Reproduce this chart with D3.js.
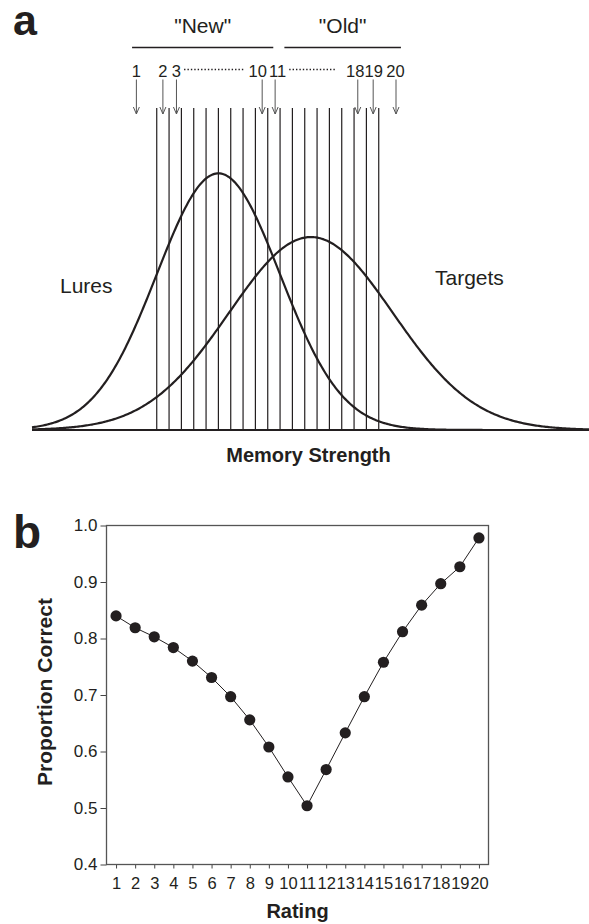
<!DOCTYPE html>
<html>
<head>
<meta charset="utf-8">
<script src="https://cdn.jsdelivr.net/npm/d3@7"></script>
<style>
  html, body { margin: 0; padding: 0; background: #fff; }
  svg { display: block; font-family: "Liberation Sans", Arial, sans-serif; }
</style>
</head>
<body>
<script>
// panel a: signal detection picture (strength in d' units)
const distNames = ["Lures", "Targets"];
const distMeans = [0, 1.5];
const distSds = [1, 1.33];
const criteria = [-1.0, -0.8, -0.6, -0.4, -0.2, 0.0, 0.2, 0.4, 0.6, 0.8,
                  1.0, 1.2, 1.4, 1.6, 1.8, 2.0, 2.2, 2.4, 2.6];
const arrowRatings = ["1", "2", "3", "10", "11", "18", "19", "20"];
const arrowPos = [-1.33, -0.9, -0.68, 0.71, 0.92, 2.26, 2.51, 2.88];
const groupLabels = ['"New"', '"Old"'];
const groupSpans = [[-1.40, 0.89], [1.07, 2.96]];

// panel b: proportion correct by rating
const ratings = d3.range(1, 21);
const propCorrect = [0.840, 0.819, 0.803, 0.784, 0.760, 0.731, 0.697, 0.656, 0.608, 0.555,
                     0.504, 0.568, 0.633, 0.697, 0.758, 0.812, 0.859, 0.897, 0.927, 0.978];
const yTicks = [0.4, 0.5, 0.6, 0.7, 0.8, 0.9, 1.0];

const W = 589, H = 924;
const ink = "#231f20";
const narrow = '"Liberation Sans Narrow", "Arial Narrow", "Liberation Sans", sans-serif';

const svg = d3.select("body").append("svg")
  .attr("width", W)
  .attr("height", H);

// ---------- panel a ----------
const xa = d3.scaleLinear().domain([-3, 6]).range([33.4, 588.4]);
const ya = d3.scaleLinear().domain([0, 0.4]).range([430, 172.7]);
const gA = svg.append("g");

gA.append("text")
  .attr("x", 13).attr("y", 35)
  .attr("font-size", 43).attr("font-weight", "bold")
  .attr("fill", ink)
  .text("a");

// group brackets
groupLabels.forEach((lab, i) => {
  const [a, b] = groupSpans[i];
  gA.append("line")
    .attr("x1", xa(a)).attr("x2", xa(b))
    .attr("y1", 47.5).attr("y2", 47.5)
    .attr("stroke", ink).attr("stroke-width", 1.3);
  gA.append("text")
    .attr("x", (xa(a) + xa(b)) / 2).attr("y", 33)
    .attr("text-anchor", "middle")
    .attr("font-size", 21).attr("fill", ink)
    .text(lab);
});

// rating numbers and arrows (labels pushed apart a little where crowded)
const nudge = { "10": -4.5, "11": 2.5, "18": -2.5, "19": 0.5, "20": -0.5 };
const numLabels = {};
arrowPos.forEach((p, i) => {
  const x = xa(p);
  const r = arrowRatings[i];
  numLabels[r] = gA.append("text")
    .attr("x", x + (nudge[r] || 0)).attr("y", 76.5)
    .attr("text-anchor", "middle")
    .attr("font-size", 16.5).attr("fill", ink)
    .style("font-family", narrow)
    .text(r);
  gA.append("line")
    .attr("x1", x).attr("x2", x)
    .attr("y1", 79.5).attr("y2", 114)
    .attr("stroke", "#555").attr("stroke-width", 1);
  gA.append("path")
    .attr("d", `M${x - 3},${107} L${x},${114} L${x + 3},${107}`)
    .attr("fill", "none").attr("stroke", "#555").attr("stroke-width", 1);
});

// dotted leaders between the shown numbers
[["3", "10", 3, 4], ["11", "18", 3, 11]].forEach(([a, b, g1, g2]) => {
  const ba = numLabels[a].node().getBBox();
  const bb = numLabels[b].node().getBBox();
  gA.append("line")
    .attr("x1", ba.x + ba.width + g1).attr("x2", bb.x - g2)
    .attr("y1", 69.5).attr("y2", 69.5)
    .attr("stroke", ink).attr("stroke-width", 1.5)
    .attr("stroke-dasharray", "1.4,2");
});

// criteria
gA.selectAll(".crit")
  .data(criteria)
  .join("line")
  .attr("class", "crit")
  .attr("x1", d => xa(d)).attr("x2", d => xa(d))
  .attr("y1", 108).attr("y2", ya(0))
  .attr("stroke", ink).attr("stroke-width", 1.2);

// baseline
const xLo = xa.invert(32), xHi = xa.invert(589);
gA.append("line")
  .attr("x1", xa(xLo)).attr("x2", xa(xHi))
  .attr("y1", ya(0)).attr("y2", ya(0))
  .attr("stroke", ink).attr("stroke-width", 2);

// density curves
const grid = d3.range(0, 401).map(i => xLo + (xHi - xLo) * i / 400);
const line = d3.line().x(d => xa(d[0])).y(d => ya(d[1]));
distMeans.forEach((m, i) => {
  const s = distSds[i];
  const pts = grid.map(v => [v, Math.exp(-0.5 * ((v - m) / s) ** 2) / (s * Math.sqrt(2 * Math.PI))]);
  gA.append("path")
    .attr("d", line(pts))
    .attr("fill", "none").attr("stroke", ink).attr("stroke-width", 2.2);
});

gA.append("text")
  .attr("x", 60).attr("y", 293)
  .attr("font-size", 21).attr("fill", ink)
  .text(distNames[0]);
gA.append("text")
  .attr("x", 435).attr("y", 285)
  .attr("font-size", 21).attr("fill", ink)
  .text(distNames[1]);

gA.append("text")
  .attr("x", 308.5).attr("y", 462)
  .attr("text-anchor", "middle")
  .attr("font-size", 20).attr("font-weight", "bold").attr("fill", ink)
  .text("Memory Strength");

// ---------- panel b ----------
const pLeft = 106.5, pRight = 488.5, pTop = 525.5, pBottom = 864.5;
const xb = d3.scaleLinear().domain([0.5, 20.5]).range([pLeft, pRight]);
const yb = d3.scaleLinear().domain([0.4, 1.0]).range([pBottom, pTop]);
const gB = svg.append("g");

gB.append("text")
  .attr("x", 13).attr("y", 548)
  .attr("font-size", 46).attr("font-weight", "bold")
  .attr("fill", ink)
  .text("b");

const yAxis = gB.append("g")
  .attr("transform", `translate(${pLeft},0)`)
  .call(d3.axisLeft(yb).tickValues(yTicks).tickFormat(d3.format(".1f")).tickSize(6).tickPadding(3));
yAxis.select(".domain").remove();
yAxis.selectAll("line").attr("stroke", "#444");
yAxis.selectAll("text")
  .attr("font-size", 17).attr("fill", ink)
  .style("font-family", '"Liberation Sans", Arial, sans-serif');

const xAxis = gB.append("g")
  .attr("transform", `translate(0,${pBottom})`)
  .call(d3.axisBottom(xb).tickValues(ratings).tickFormat(d3.format("d")).tickSize(4).tickPadding(9));
xAxis.select(".domain").remove();
xAxis.selectAll("line").attr("stroke", "#444");
xAxis.selectAll("text")
  .attr("font-size", 16.5).attr("fill", ink)
  .style("font-family", narrow);

gB.append("rect")
  .attr("x", pLeft).attr("y", pTop)
  .attr("width", pRight - pLeft).attr("height", pBottom - pTop)
  .attr("fill", "none").attr("stroke", "#555").attr("stroke-width", 1.3);

const pts = ratings.map((r, i) => [r, propCorrect[i]]);

gB.append("path")
  .datum(pts)
  .attr("d", d3.line().x(d => xb(d[0])).y(d => yb(d[1])))
  .attr("fill", "none").attr("stroke", ink).attr("stroke-width", 1);

gB.selectAll(".dot")
  .data(pts)
  .join("circle")
  .attr("class", "dot")
  .attr("cx", d => xb(d[0])).attr("cy", d => yb(d[1]))
  .attr("r", 5.6)
  .attr("fill", ink);

gB.append("text")
  .attr("x", (pLeft + pRight) / 2).attr("y", 918)
  .attr("text-anchor", "middle")
  .attr("font-size", 20).attr("font-weight", "bold").attr("fill", ink)
  .text("Rating");

gB.append("text")
  .attr("transform", `translate(52,${(pTop + pBottom) / 2 - 3}) rotate(-90)`)
  .attr("text-anchor", "middle")
  .attr("font-size", 21).attr("font-weight", "bold").attr("fill", ink)
  .text("Proportion Correct");
</script>
</body>
</html>
